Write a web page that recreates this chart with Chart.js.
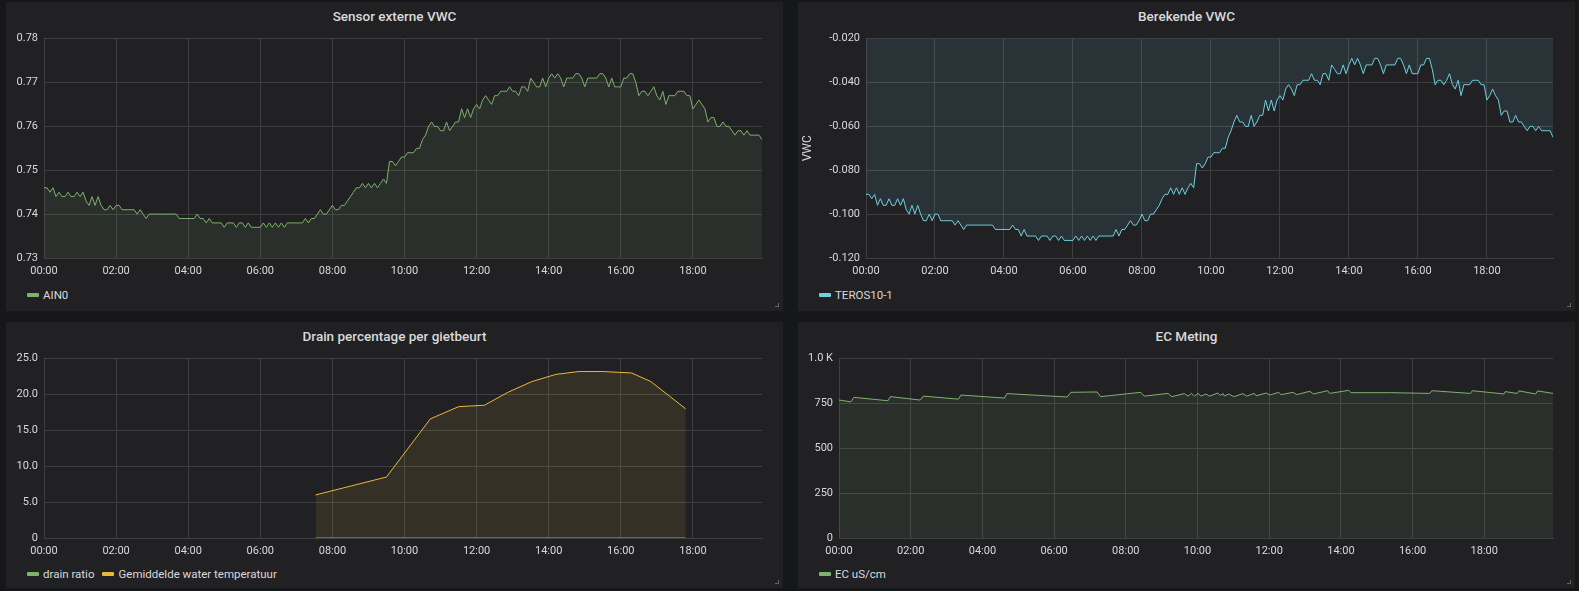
<!DOCTYPE html>
<html>
<head>
<meta charset="utf-8">
<script src="https://cdn.jsdelivr.net/npm/chart.js@4.4.1/dist/chart.umd.min.js"></script>
<style>
  html, body { margin: 0; padding: 0; background: #161719; }
  body { width: 1579px; height: 591px; position: relative; overflow: hidden; font-family: Roboto, "Noto Sans", sans-serif; }
  .panel { position: absolute; background: #212124; }
  .title { position: absolute; left: 0; right: 0; text-align: center; color: #d8d9da; font-size: 13.5px; font-weight: 500; }
  .box { position: absolute; }
  .legend { position: absolute; left: 21px; font-size: 11.5px; color: #d8d9da; display: flex; align-items: center; white-space: nowrap; }
  .legend i { display: inline-block; width: 12px; height: 4px; border-radius: 1px; margin-right: 4px; }
  .legend span { margin-right: 8px; }
  .corner { position: absolute; right: 4px; bottom: 4px; width: 3px; height: 3px; border-right: 1px solid #666; border-bottom: 1px solid #666; }
</style>
</head>
<body>

<div class="panel" style="left:6px;top:2px;width:777px;height:309px;">
  <div class="title" style="top:6px;">Sensor externe VWC</div>
  <div class="legend" style="top:286px;"><i style="background:#7EB26D"></i><span>AIN0</span></div>
  <div class="corner"></div>
</div>
<div class="panel" style="left:798px;top:2px;width:777px;height:309px;">
  <div class="title" style="top:6px;">Berekende VWC</div>
  <div class="legend" style="top:286px;"><i style="background:#6ED0E0"></i><span>TEROS10-1</span></div>
  <div class="corner"></div>
</div>
<div class="panel" style="left:6px;top:322px;width:777px;height:266px;">
  <div class="title" style="top:6px;">Drain percentage per gietbeurt</div>
  <div class="legend" style="top:245px;"><i style="background:#7EB26D"></i><span>drain ratio</span><i style="background:#EAB839"></i><span>Gemiddelde water temperatuur</span></div>
  <div class="corner"></div>
</div>
<div class="panel" style="left:798px;top:322px;width:777px;height:266px;">
  <div class="title" style="top:6px;">EC Meting</div>
  <div class="legend" style="top:245px;"><i style="background:#7EB26D"></i><span>EC uS/cm</span></div>
  <div class="corner"></div>
</div>

<div class="box" id="b1" style="left:6px;top:31px;width:777px;height:249px;"><canvas id="c1"></canvas></div>
<div class="box" id="b2" style="left:798px;top:31px;width:776px;height:249px;"><canvas id="c2"></canvas></div>
<div class="box" id="b3" style="left:6px;top:351px;width:777px;height:209px;"><canvas id="c3"></canvas></div>
<div class="box" id="b4" style="left:798px;top:351px;width:776px;height:209px;"><canvas id="c4"></canvas></div>

<script>
// samples every 5 minutes from 00:00 to 19:55
const sampleStep = 5;
const timeTicks = ['00:00','02:00','04:00','06:00','08:00','10:00','12:00','14:00','16:00','18:00'];

const ain0Values = [
  0.746,0.746,0.745,0.746,0.744,0.745,0.744,0.744,0.745,0.744,
  0.744,0.745,0.744,0.745,0.743,0.742,0.744,0.742,0.744,0.742,
  0.741,0.741,0.742,0.741,0.742,0.742,0.741,0.741,0.741,0.741,
  0.741,0.740,0.741,0.740,0.739,0.740,0.740,0.740,0.740,0.740,
  0.740,0.740,0.740,0.740,0.740,0.739,0.739,0.739,0.739,0.739,
  0.739,0.740,0.739,0.739,0.738,0.739,0.738,0.738,0.738,0.738,
  0.737,0.738,0.738,0.738,0.737,0.738,0.738,0.737,0.738,0.737,
  0.737,0.737,0.737,0.738,0.737,0.738,0.737,0.738,0.737,0.738,
  0.737,0.738,0.738,0.738,0.738,0.738,0.738,0.739,0.738,0.739,
  0.739,0.740,0.741,0.740,0.740,0.741,0.742,0.741,0.741,0.742,
  0.742,0.743,0.744,0.745,0.746,0.746,0.747,0.746,0.747,0.746,
  0.747,0.746,0.747,0.748,0.747,0.752,0.752,0.751,0.752,0.753,
  0.753,0.754,0.754,0.754,0.755,0.755,0.757,0.758,0.760,0.761,
  0.760,0.760,0.759,0.759,0.761,0.759,0.760,0.761,0.761,0.764,
  0.762,0.764,0.762,0.764,0.765,0.764,0.766,0.767,0.766,0.765,
  0.767,0.767,0.768,0.768,0.768,0.769,0.768,0.768,0.767,0.769,
  0.769,0.768,0.771,0.770,0.769,0.769,0.771,0.769,0.771,0.772,
  0.771,0.772,0.771,0.769,0.771,0.771,0.771,0.772,0.772,0.771,
  0.769,0.771,0.771,0.771,0.771,0.772,0.772,0.771,0.769,0.771,
  0.769,0.769,0.769,0.771,0.771,0.772,0.772,0.770,0.767,0.768,
  0.768,0.767,0.768,0.769,0.767,0.766,0.768,0.765,0.767,0.767,
  0.767,0.768,0.768,0.768,0.767,0.767,0.764,0.765,0.766,0.765,
  0.764,0.761,0.762,0.762,0.760,0.760,0.761,0.760,0.760,0.759,
  0.758,0.759,0.759,0.758,0.759,0.758,0.758,0.758,0.758,0.757
];

const terosValues = [
  -0.091,-0.091,-0.093,-0.091,-0.096,-0.093,-0.096,-0.096,-0.093,-0.096,
  -0.096,-0.093,-0.096,-0.093,-0.098,-0.100,-0.096,-0.100,-0.096,-0.100,
  -0.103,-0.103,-0.100,-0.103,-0.100,-0.100,-0.103,-0.103,-0.103,-0.103,
  -0.103,-0.105,-0.103,-0.105,-0.107,-0.105,-0.105,-0.105,-0.105,-0.105,
  -0.105,-0.105,-0.105,-0.105,-0.105,-0.107,-0.107,-0.107,-0.107,-0.107,
  -0.107,-0.105,-0.107,-0.107,-0.110,-0.107,-0.110,-0.110,-0.110,-0.110,
  -0.112,-0.110,-0.110,-0.110,-0.112,-0.110,-0.110,-0.112,-0.110,-0.112,
  -0.112,-0.112,-0.112,-0.110,-0.112,-0.110,-0.112,-0.110,-0.112,-0.110,
  -0.112,-0.110,-0.110,-0.110,-0.110,-0.110,-0.110,-0.107,-0.110,-0.107,
  -0.107,-0.105,-0.103,-0.105,-0.105,-0.103,-0.100,-0.103,-0.103,-0.100,
  -0.100,-0.098,-0.096,-0.093,-0.091,-0.091,-0.088,-0.091,-0.088,-0.091,
  -0.088,-0.091,-0.088,-0.086,-0.088,-0.077,-0.077,-0.079,-0.077,-0.074,
  -0.074,-0.072,-0.072,-0.072,-0.070,-0.070,-0.065,-0.062,-0.058,-0.055,
  -0.058,-0.058,-0.060,-0.060,-0.055,-0.060,-0.058,-0.055,-0.055,-0.048,
  -0.053,-0.048,-0.053,-0.048,-0.046,-0.048,-0.043,-0.041,-0.043,-0.046,
  -0.041,-0.041,-0.039,-0.039,-0.039,-0.036,-0.039,-0.039,-0.041,-0.036,
  -0.036,-0.039,-0.032,-0.034,-0.036,-0.036,-0.032,-0.036,-0.032,-0.029,
  -0.032,-0.029,-0.032,-0.036,-0.032,-0.032,-0.032,-0.029,-0.029,-0.032,
  -0.036,-0.032,-0.032,-0.032,-0.032,-0.029,-0.029,-0.032,-0.036,-0.032,
  -0.036,-0.036,-0.036,-0.032,-0.032,-0.029,-0.029,-0.034,-0.041,-0.039,
  -0.039,-0.041,-0.039,-0.036,-0.041,-0.043,-0.039,-0.046,-0.041,-0.041,
  -0.041,-0.039,-0.039,-0.039,-0.041,-0.041,-0.048,-0.046,-0.043,-0.046,
  -0.048,-0.055,-0.053,-0.053,-0.058,-0.058,-0.055,-0.058,-0.058,-0.060,
  -0.062,-0.060,-0.060,-0.062,-0.060,-0.062,-0.062,-0.062,-0.062,-0.065
];

const drainTimes = ['07:32','09:30','10:43','11:30','12:13','12:52','13:32','14:12','14:50','15:29','16:18','16:50','17:48'];
const drainRatio = [0,0,0,0,0,0,0,0,0,0,0,0,0];
const waterTemp  = [6.0,8.5,16.6,18.3,18.5,20.3,21.8,22.8,23.2,23.2,23.0,21.8,18.0];

const ecTimes = [
  '00:00','00:20','00:25','01:22','01:26','02:16','02:21','03:20','03:24','04:37',
  '04:41','06:22','06:28','07:12','07:18','08:25','08:31','09:11','09:17','09:38',
  '09:44','09:50','09:55','10:01','10:06','10:14','10:20','10:34','10:38','10:43',
  '10:45','10:52','11:01','11:16','11:22','11:35','11:38','11:55','12:01','12:16',
  '12:20','12:40','12:46','13:08','13:14','13:38','13:41','14:13','14:17','15:25',
  '16:29','16:32','17:37','17:40','18:33','18:35','18:55','18:58','19:26','19:29',
  '19:55'
];
const ecValues = [
  769,759,784,765,788,769,791,774,797,780,
  805,786,812,814,788,812,791,806,788,805,
  791,806,791,806,791,803,791,808,795,805,
  791,803,788,805,791,806,793,808,797,812,
  799,812,799,818,803,821,806,823,810,810,
  806,821,806,821,803,816,806,820,803,820,
  806
];

const xMax = 1195;
const textColor = '#d8d9da';
const gridColor = '#3f3f42';

function toMin(t) {
  const p = t.split(':');
  return parseInt(p[0]) * 60 + parseInt(p[1]);
}
function pad(n) { return (n < 10 ? '0' : '') + n; }
function fmtTime(v) { return pad(Math.floor(v / 60)) + ':' + pad(v % 60); }

function xyFromSamples(values) {
  return values.map((v, i) => ({x: i * sampleStep, y: v}));
}
function xyFromTimes(times, values) {
  return times.map((t, i) => ({x: toMin(t), y: values[i]}));
}

// move the canvas box so that the plot area lands on the panel's plot rectangle
function fitPlot(chart, boxId, plotTop, plotBottom) {
  const box = document.getElementById(boxId);
  const a = chart.chartArea;
  const below = chart.height - a.bottom;
  box.style.top = Math.round(plotTop - a.top) + 'px';
  box.style.height = Math.round(plotBottom - plotTop + a.top + below) + 'px';
  chart.resize();
}

function makeChart(id, datasets, yAxisWidth, yOpts, yTitle) {
  const y = Object.assign({
    grid: {color: gridColor, drawTicks: false},
    border: {color: gridColor},
    afterFit: axis => { axis.width = yAxisWidth; }
  }, yOpts);
  y.ticks = Object.assign({color: textColor, font: {size: 11, family: 'Roboto'}, padding: 6}, yOpts.ticks);
  if (yTitle) {
    y.title = {display: true, text: yTitle, color: textColor, font: {size: 12, family: 'Roboto'}, padding: {top: 3, bottom: 0}};
  }
  return new Chart(document.getElementById(id), {
    type: 'line',
    data: {datasets: datasets},
    options: {
      responsive: true,
      maintainAspectRatio: false,
      animation: false,
      layout: {padding: {top: 8, right: 21, left: 0, bottom: 0}},
      plugins: {legend: {display: false}, tooltip: {enabled: false}},
      elements: {point: {radius: 0}, line: {borderWidth: 1, tension: 0}},
      scales: {
        x: {
          type: 'linear',
          min: 0,
          max: xMax,
          grid: {color: gridColor, drawTicks: false},
          border: {color: gridColor},
          afterBuildTicks: axis => { axis.ticks = timeTicks.map(t => ({value: toMin(t)})); },
          ticks: {
            color: textColor,
            font: {size: 11, family: 'Roboto'},
            padding: 7,
            maxRotation: 0,
            autoSkip: false,
            callback: v => fmtTime(v)
          },
          afterFit: axis => { axis.height = 24; }
        },
        y: y
      }
    }
  });
}

const ch1 = makeChart('c1', [{
  label: 'AIN0',
  data: xyFromSamples(ain0Values),
  borderColor: '#7EB26D',
  backgroundColor: 'rgba(126,178,109,0.1)',
  fill: 'origin'
}], 38, {
  min: 0.73, max: 0.78,
  ticks: {stepSize: 0.01, callback: v => v.toFixed(2)}
});

const ch2 = makeChart('c2', [{
  label: 'TEROS10-1',
  data: xyFromSamples(terosValues),
  borderColor: '#6ED0E0',
  backgroundColor: 'rgba(110,208,224,0.1)',
  fill: 'origin'
}], 68, {
  min: -0.12, max: -0.02,
  ticks: {stepSize: 0.02, callback: v => v.toFixed(3)}
}, 'VWC');

const ch3 = makeChart('c3', [{
  label: 'drain ratio',
  data: xyFromTimes(drainTimes, drainRatio),
  borderColor: '#7EB26D',
  backgroundColor: 'rgba(126,178,109,0.1)',
  fill: 'origin'
}, {
  label: 'Gemiddelde water temperatuur',
  data: xyFromTimes(drainTimes, waterTemp),
  borderColor: '#EAB839',
  backgroundColor: 'rgba(234,184,57,0.1)',
  fill: 'origin'
}], 38, {
  min: 0, max: 25,
  ticks: {stepSize: 5, callback: v => v === 0 ? '0' : v.toFixed(1)}
});

const ch4 = makeChart('c4', [{
  label: 'EC uS/cm',
  data: xyFromTimes(ecTimes, ecValues),
  borderColor: '#7EB26D',
  backgroundColor: 'rgba(126,178,109,0.1)',
  fill: 'origin'
}], 41, {
  min: 0, max: 1000,
  ticks: {stepSize: 250, callback: v => v === 1000 ? '1.0 K' : String(v)}
});

fitPlot(ch1, 'b1', 39, 258);
fitPlot(ch2, 'b2', 39, 258);
fitPlot(ch3, 'b3', 359, 538);
fitPlot(ch4, 'b4', 359, 538);
</script>
</body>
</html>
